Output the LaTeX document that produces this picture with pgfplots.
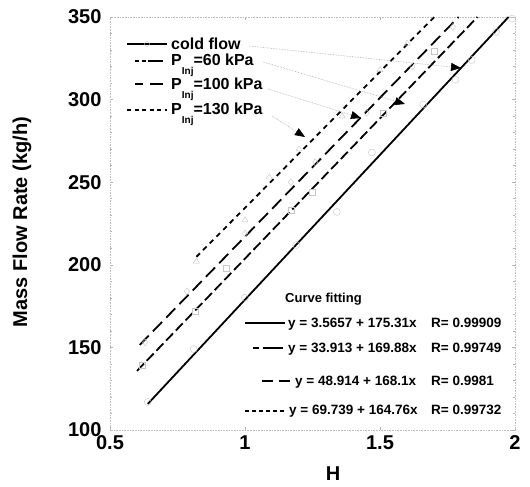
\documentclass[border=0pt]{standalone}
\usepackage{fontspec}
\setmainfont{Liberation Sans}
\usepackage{pgfplots}
\pgfplotsset{compat=1.18}
\usetikzlibrary{calc,arrows.meta}

\newcommand{\sub}[1]{\raisebox{-9bp}{\fontsize{10bp}{10bp}\selectfont #1}}
\tikzset{
  cold/.style={black,line width=1.8bp},
  p60/.style={black,line width=1.8bp,dash pattern=on 10bp off 4bp},
  p100/.style={black,line width=1.8bp,dash pattern=on 13bp off 6bp},
  p130/.style={black,line width=1.8bp,dash pattern=on 5bp off 4.5bp},
  leader/.style={gray!70,densely dotted,line width=0.6bp,
    -{Triangle[length=10bp,width=8bp,color=black]}},
}

\begin{document}
\begin{tikzpicture}
\begin{axis}[name=ax, scale only axis, width=405bp, height=413bp,
  xmin=0.5, xmax=2, ymin=100, ymax=350,
  xtick={0.5,1,1.5,2}, ytick={100,150,...,350},
  minor y tick num=4,
  axis line style={gray!50,densely dotted,line width=0.6bp},
  tick style={gray!60,line width=0.6bp},
  major tick length=3bp, minor tick length=2bp, tick align=inside,
  ticklabel style={font=\fontsize{20bp}{24bp}\selectfont\bfseries},
  /pgf/number format/assume math mode=true,
  yticklabel style={xshift=-5bp},
  xticklabel style={yshift=-2bp},
]
% fitted lines
\addplot[cold] coordinates {(0.64,115.8) (1.976,350)};
\addplot[p60] coordinates {(0.60,135.8) (1.861,350)};
\addplot[p100] coordinates {(0.61,151.5) (1.791,350)};
\addplot[p130] coordinates {(0.82,204.8) (1.701,350)};
% measured points (faint in the scan)
\addplot[only marks,mark=o,mark size=3.5bp,gray!45,thin] coordinates {
  (0.64,117) (0.81,149) (1.00,180) (1.19,212) (1.34,232) (1.47,268)
  (1.66,297) (1.78,312) (1.84,324) (1.93,341) (1.99,349)};
\addplot[only marks,mark=square,mark size=3bp,gray!45,thin] coordinates {
  (0.62,139) (0.815,172) (0.93,198) (1.17,233) (1.25,244) (1.51,292) (1.70,329)};
\addplot[only marks,mark=diamond,mark size=3.5bp,gray!45,thin] coordinates {
  (0.63,153) (0.785,184) (1.00,219) (1.17,250) (1.26,262) (1.45,292) (1.62,320) (1.77,344)};
\addplot[only marks,mark=triangle,mark size=3.5bp,gray!45,thin] coordinates {
  (0.82,202) (1.00,227) (1.09,253) (1.20,270) (1.36,290) (1.50,318) (1.60,334)};
\end{axis}

\begin{scope}[x=1bp,y=-1bp,shift={($(ax.south west)+(-110bp,430bp)$)}]
  % axis titles
  \node[rotate=90,font=\fontsize{20bp}{24bp}\selectfont\bfseries] at (22,222) {Mass Flow Rate (kg/h)};
  \node[font=\fontsize{20bp}{24bp}\selectfont\bfseries] at (333,474) {H};
  % series legend
  \draw[cold] (127,44) -- (167,44);
  \draw[gray!50,thin] (147,44) circle (2.5bp);
  \draw[p60,dash pattern=on 4bp off 3bp on 4bp off 2bp on 20bp] (135,61) -- (163,61);
  \draw[p100,dash pattern=on 8bp off 7bp on 13bp] (135,84) -- (163,84);
  \draw[p130,dash pattern=on 4bp off 3.5bp] (127,110) -- (167,110);
  \begin{scope}[font=\fontsize{16bp}{18bp}\selectfont\bfseries]
    \node[anchor=base west,inner sep=0] at (171,50) {cold flow};
    \node[anchor=base west,inner sep=0] at (171,66) {P\sub{Inj}=60 kPa};
    \node[anchor=base west,inner sep=0] at (171,90) {P\sub{Inj}=100 kPa};
    \node[anchor=base west,inner sep=0] at (171,115) {P\sub{Inj}=130 kPa};
  \end{scope}
  % leaders
  \draw[leader] (249,46) -- (461,68);
  \draw[leader] (263,62) -- (405,104);
  \draw[leader] (268,89) -- (361,118);
  \draw[leader] (272,116) -- (305,137);
  % curve fitting legend
  \node[anchor=west,inner sep=0,font=\fontsize{13bp}{15bp}\selectfont\bfseries] at (285,299) {Curve fitting};
  \draw[cold] (245,323) -- (285,323);
  \draw[p60,dash pattern=on 6bp off 4bp on 20bp] (253,348) -- (283,348);
  \draw[p100,dash pattern=on 11bp off 6bp on 11bp] (262,381) -- (290,381);
  \draw[p130,dash pattern=on 4bp off 3bp] (245,411) -- (287,411);
  \begin{scope}[font=\fontsize{13.5bp}{15bp}\selectfont\bfseries]
    \node[anchor=base west,inner sep=0] at (288,328) {y = 3.5657 + 175.31x};
    \node[anchor=base west,inner sep=0] at (288,353) {y = 33.913 + 169.88x};
    \node[anchor=base west,inner sep=0] at (295,386) {y = 48.914 + 168.1x};
    \node[anchor=base west,inner sep=0] at (289,415) {y = 69.739 + 164.76x};
    \node[anchor=base west,inner sep=0] at (431,328) {R= 0.99909};
    \node[anchor=base west,inner sep=0] at (431,353) {R= 0.99749};
    \node[anchor=base west,inner sep=0] at (431,386) {R= 0.9981};
    \node[anchor=base west,inner sep=0] at (431,415) {R= 0.99732};
  \end{scope}
  \pgfresetboundingbox
  \path (0,0) rectangle (530,487);
\end{scope}
\end{tikzpicture}
\end{document}
